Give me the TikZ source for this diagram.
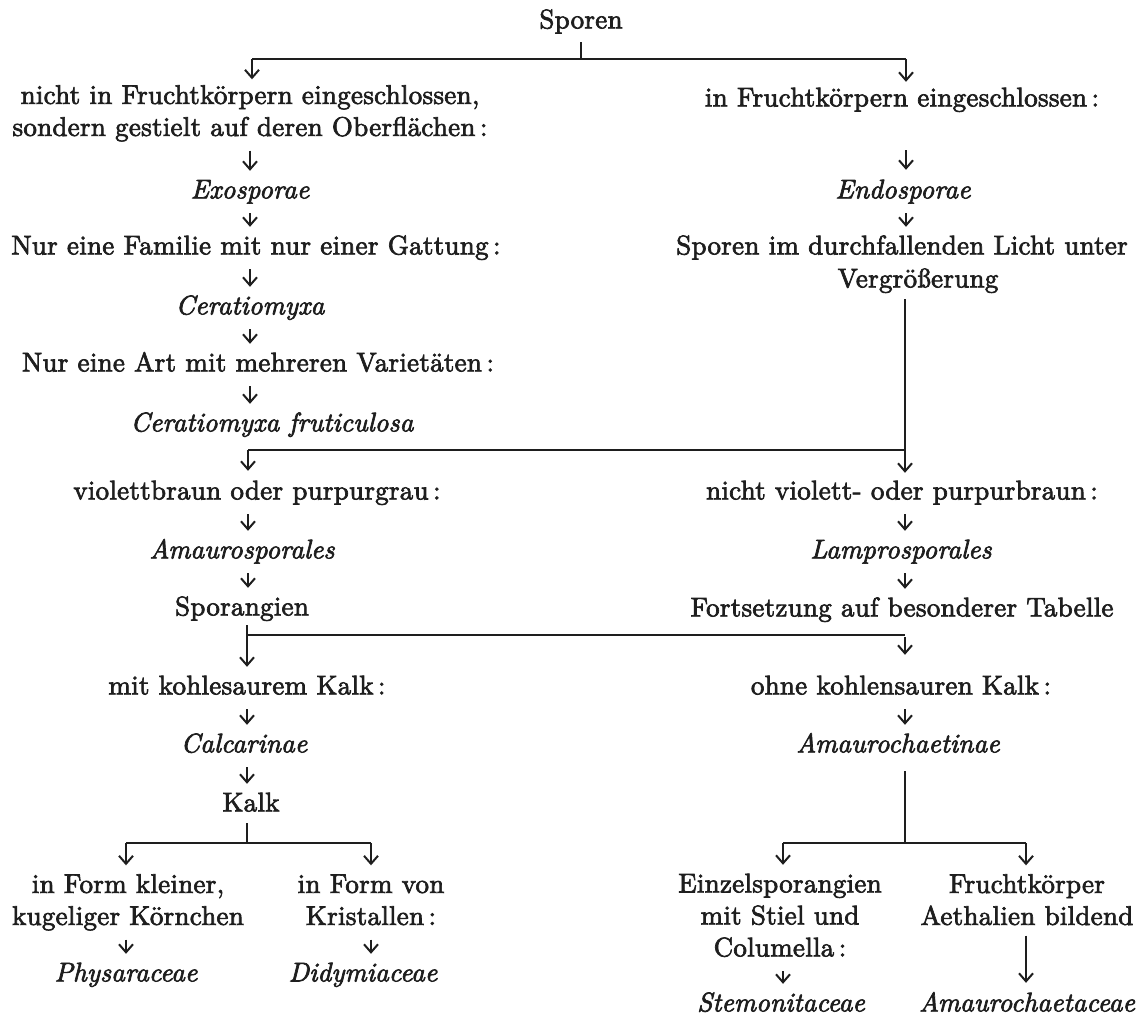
\documentclass[tikz,border=0pt]{standalone}
\usepackage{fontspec}
\usetikzlibrary{arrows.meta,calc}
\newfontfamily\refrm{lmroman10-regular.otf}[LetterSpace=1.0,FakeBold=2.5]
\newfontfamily\refit{lmroman10-italic.otf}[LetterSpace=0.2,FakeBold=2.5]
\definecolor{ink}{RGB}{30,30,30}
\begin{document}
\begin{tikzpicture}[x=1pt,y=-1pt,
  txt/.style={inner sep=0pt, align=center, text=ink, font=\refrm\fontsize{27}{32}\selectfont},
  itx/.style={txt, font=\refit\fontsize{27}{32}\selectfont},
  ln/.style={draw=ink, line width=1.3pt},
  arr/.style={draw=ink, line width=2pt, shorten <=5pt, shorten >=5pt,
    -{Straight Barb[length=8pt,width=14pt,line width=2pt]}},
  barr/.style={arr, shorten <=0pt}
]
\fill[white] (0,0) rectangle (1141,1018);
\useasboundingbox (0,0) rectangle (1141,1018);

% column and bar coordinates
\coordinate (cL) at (250,0);
\coordinate (b1L) at (252,59);  \coordinate (b1R) at (906,59);
\coordinate (b2L) at (248,450); \coordinate (b2R) at (905,450);
\coordinate (b3L) at (247,635); \coordinate (b3R) at (905,635);
\coordinate (b4L) at (126,843); \coordinate (b4R) at (371,843);
\coordinate (b5L) at (783,843); \coordinate (b5R) at (1026,843);

% nodes
\node[txt] (sporen) at (581,22) {\strut Sporen};
\node[txt] (nichtin) at (250,113.5) {\strut nicht in Fruchtkörpern eingeschlossen,\\\strut sondern gestielt auf deren Oberflächen\,:};
\node[txt] (fruchtin) at (902,100) {\strut in Fruchtkörpern eingeschlossen\,:};
\node[itx] (exo) at (250,192) {\strut Exosporae};
\node[itx] (endo) at (903,192) {\strut Endosporae};
\node[txt] (fam) at (256,248) {\strut Nur eine Familie mit nur einer Gattung\,:};
\node[txt] (durch1) at (902,248) {\strut Sporen im durchfallenden Licht unter};
\node[txt] (durch2) at (918,281) {\strut Vergrößerung};
\node[itx] (cera) at (250,308) {\strut Ceratiomyxa};
\node[txt] (art) at (258,365) {\strut Nur eine Art mit mehreren Varietäten\,:};
\node[itx] (cerafr) at (272,425) {\strut Ceratiomyxa fruticulosa};
\node[txt] (violett) at (257,493) {\strut violettbraun oder purpurgrau\,:};
\node[txt] (nviol) at (902,493) {\strut nicht violett- oder purpurbraun\,:};
\node[itx] (amauro) at (242,552) {\strut Amaurosporales};
\node[itx] (lampro) at (901,552) {\strut Lamprosporales};
\node[txt] (spor) at (242,609) {\strut Sporangien};
\node[txt] (forts) at (902,610) {\strut Fortsetzung auf besonderer Tabelle};
\node[txt] (mit) at (247,688) {\strut mit kohlesaurem Kalk\,:};
\node[txt] (ohne) at (901,688) {\strut ohne kohlensauren Kalk\,:};
\node[itx] (calc) at (244,746) {\strut Calcarinae};
\node[itx] (amch) at (898,746) {\strut Amaurochaetinae};
\node[txt] (kalk) at (251,805) {\strut Kalk};
\node[txt] (kleiner) at (128,902.5) {\strut in Form kleiner,\\\strut kugeliger Körnchen};
\node[txt] (von) at (371,902.5) {\strut in Form von\\\strut Kristallen\,:};
\node[txt] (einzel) at (780,918) {\strut Einzelsporangien\\\strut mit Stiel und\\\strut Columella\,:};
\node[txt] (frucht) at (1027,902.5) {\strut Fruchtkörper\\\strut Aethalien bildend};
\node[itx] (phys) at (126,975) {\strut Physaraceae};
\node[itx] (didy) at (363,975) {\strut Didymiaceae};
\node[itx] (stemo) at (781,1005) {\strut Stemonitaceae};
\node[itx] (amchc) at (1027,1005) {\strut Amaurochaetaceae};

% top split
\draw[ln, shorten <=4pt] (sporen.south) -- (sporen.south |- b1L);
\draw[ln] (b1L) -- (b1R);
\draw[barr, shorten >=2pt] (b1L) -- (nichtin.north -| b1L);
\draw[barr, shorten >=2pt] (b1R) -- (fruchtin.north -| b1R);

% left column (Exosporae)
\draw[arr] (nichtin.south -| cL) -- (exo.north -| cL);
\draw[arr] (exo.south -| cL) -- (fam.north -| cL);
\draw[arr] (fam.south -| cL) -- (cera.north -| cL);
\draw[arr] (cera.south -| cL) -- (art.north -| cL);
\draw[arr] (art.south -| cL) -- (cerafr.north -| cL);

% right column (Endosporae)
\draw[arr, shorten <=34pt, shorten >=6pt] (fruchtin.south -| b1R) -- (endo.north -| b1R);
\draw[arr] (endo.south -| b1R) -- (durch1.north -| b1R);
\draw[ln, shorten <=2pt] (durch2.south -| b2R) -- (b2R);

% second split
\draw[ln] (b2L) -- (b2R);
\draw[barr, shorten >=6pt] (b2L) -- (violett.north -| b2L);
\draw[barr, shorten >=4pt] (b2R) -- (nviol.north -| b2R);
\draw[arr] (violett.south -| b2L) -- (amauro.north -| b2L);
\draw[arr] (amauro.south -| b2L) -- (spor.north -| b2L);
\draw[arr] (nviol.south -| b2R) -- (lampro.north -| b2R);
\draw[arr] (lampro.south -| b2R) -- (forts.north -| b2R);

% third split
\draw[ln] (b3L) -- (b3R);
\draw[ln, shorten <=0pt] (spor.south -| b3L) -- (b3L);
\draw[barr, shorten >=5pt] (b3L) -- (mit.north -| b3L);
\draw[barr, shorten <=2pt, shorten >=17pt] (b3R) -- (ohne.north -| b3R);
\draw[arr] (mit.south -| b3L) -- (calc.north -| b3L);
\draw[arr] (calc.south -| b3L) -- (kalk.north -| b3L);
\draw[arr] (ohne.south -| b3R) -- (amch.north -| b3R);

% Kalk split
\draw[ln, shorten <=2pt] (kalk.south -| b3L) -- (b3L |- b4L);
\draw[ln] (b4L) -- (b4R);
\draw[barr, shorten >=5pt] (b4L) -- (kleiner.north -| b4L);
\draw[barr, shorten >=5pt] (b4R) -- (von.north -| b4R);
\draw[arr] (kleiner.south -| b4L) -- (phys.north -| b4L);
\draw[arr] (von.south -| b4R) -- (didy.north -| b4R);

% Amaurochaetinae split
\draw[ln, shorten <=9pt] (amch.south -| b3R) -- (b3R |- b5L);
\draw[ln] (b5L) -- (b5R);
\draw[barr, shorten >=5pt] (b5L) -- (einzel.north -| b5L);
\draw[barr, shorten >=5pt] (b5R) -- (frucht.north -| b5R);
\draw[arr] (einzel.south -| b5L) -- (stemo.north -| b5L);
\draw[arr, shorten <=1pt, shorten >=6pt] (frucht.south -| b5R) -- (amchc.north -| b5R);
\end{tikzpicture}
\end{document}
